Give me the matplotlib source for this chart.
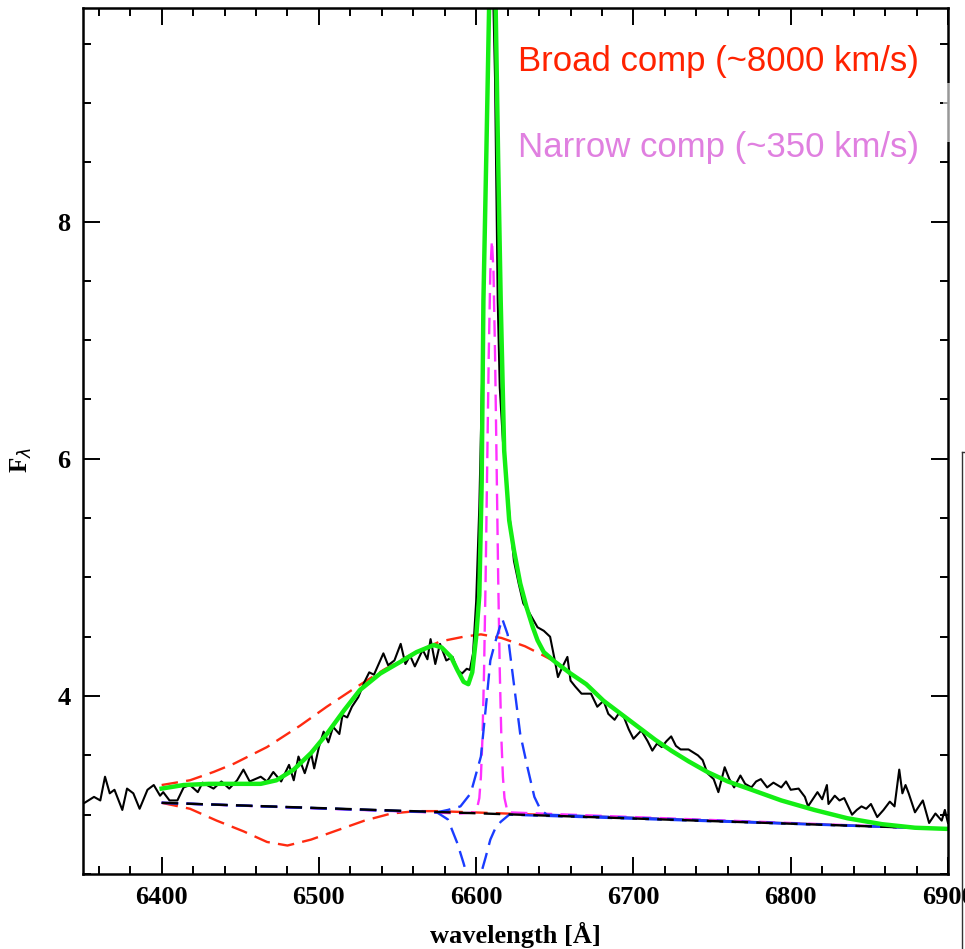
import matplotlib
matplotlib.use("Agg")
import matplotlib.pyplot as plt
from matplotlib.ticker import MultipleLocator
from matplotlib.patches import Rectangle
from matplotlib.lines import Line2D

# --------------------------------------------------------------------------- #
# Data (wavelength in Angstrom, flux F_lambda)
# --------------------------------------------------------------------------- #
SPEC_WL = [6351, 6357, 6361, 6364, 6367, 6370, 6375, 6378, 6382, 6386, 6391, 6395,
           6399, 6401, 6405, 6410, 6414, 6418, 6423, 6426, 6433, 6438, 6443, 6448,
           6452, 6456, 6463, 6467, 6471, 6476, 6481, 6484, 6487, 6491, 6495, 6497,
           6500, 6503, 6506, 6509, 6513, 6515, 6518, 6521, 6525, 6529, 6532, 6535,
           6539, 6541, 6544, 6548, 6552, 6555, 6558, 6561, 6566, 6569, 6571, 6574,
           6577, 6581, 6585, 6588, 6591, 6594, 6596, 6598, 6600, 6602, 6604, 6606,
           6608, 6610, 6612, 6613.7, 6615, 6617, 6619, 6621, 6624, 6627, 6630, 6633,
           6636, 6639, 6643, 6647, 6650, 6652, 6655, 6658, 6660, 6663, 6667, 6673,
           6677, 6681, 6684, 6688, 6691, 6694, 6697, 6700, 6705, 6709, 6712, 6715,
           6718, 6721, 6724, 6727, 6730, 6735, 6741, 6744, 6747, 6751, 6754, 6758,
           6761, 6764, 6768, 6771, 6775, 6778, 6781, 6785, 6789, 6794, 6797, 6800,
           6805, 6809, 6811, 6814, 6817, 6820, 6823, 6824, 6828, 6831, 6834, 6839,
           6842, 6845, 6848, 6851, 6855, 6859, 6863, 6866, 6869, 6871, 6873, 6875,
           6879, 6884, 6888, 6892, 6896, 6898, 6900]
SPEC_F = [3.10, 3.15, 3.12, 3.32, 3.18, 3.21, 3.04, 3.22, 3.18, 3.05, 3.21, 3.25,
          3.16, 3.19, 3.12, 3.12, 3.23, 3.25, 3.19, 3.27, 3.22, 3.28, 3.22, 3.29,
          3.38, 3.28, 3.32, 3.28, 3.36, 3.28, 3.42, 3.29, 3.49, 3.35, 3.52, 3.39,
          3.57, 3.70, 3.61, 3.74, 3.68, 3.84, 3.82, 3.91, 3.99, 4.12, 4.20, 4.18,
          4.30, 4.36, 4.26, 4.30, 4.44, 4.27, 4.34, 4.25, 4.39, 4.31, 4.48, 4.27,
          4.44, 4.30, 4.33, 4.22, 4.19, 4.23, 4.22, 4.36, 4.80, 5.60, 6.80, 8.20,
          9.70, 10.4, 9.20, 7.33, 6.60, 6.15, 5.85, 5.55, 5.14, 4.95, 4.78, 4.72,
          4.65, 4.58, 4.55, 4.50, 4.30, 4.16, 4.25, 4.33, 4.13, 4.08, 4.02, 4.02,
          3.91, 3.96, 3.85, 3.80, 3.86, 3.82, 3.72, 3.64, 3.71, 3.62, 3.54, 3.60,
          3.57, 3.62, 3.66, 3.58, 3.55, 3.55, 3.50, 3.46, 3.35, 3.30, 3.19, 3.40,
          3.30, 3.23, 3.33, 3.26, 3.23, 3.28, 3.30, 3.23, 3.27, 3.23, 3.28, 3.21,
          3.22, 3.15, 3.07, 3.13, 3.19, 3.13, 3.25, 3.09, 3.16, 3.12, 3.14, 3.00,
          3.04, 3.07, 3.05, 3.09, 2.98, 3.04, 3.11, 3.07, 3.38, 3.18, 3.25, 3.18,
          3.02, 3.12, 2.93, 3.01, 2.95, 3.04, 2.93]

# total fit (green)
FIT_WL = [6400, 6414, 6430, 6446, 6463, 6473, 6484, 6495, 6505, 6516, 6526, 6539,
          6552, 6562, 6573, 6578, 6584, 6588, 6592, 6595, 6597.5, 6600, 6602, 6603.5,
          6604.6, 6606.5, 6608.2, 6610, 6612.4, 6614, 6615.6, 6617.8, 6621, 6624,
          6628, 6632, 6636, 6639, 6643, 6650, 6660, 6670, 6681, 6692, 6703, 6714,
          6724, 6735, 6747, 6760, 6773, 6794, 6815, 6836, 6858, 6879, 6900]
FIT_F = [3.22, 3.25, 3.26, 3.26, 3.26, 3.29, 3.38, 3.52, 3.68, 3.88, 4.05, 4.19,
         4.29, 4.37, 4.43, 4.41, 4.33, 4.22, 4.12, 4.10, 4.20, 4.50, 4.85, 5.80,
         7.33, 8.60, 9.80, 11.0, 9.80, 8.50, 7.33, 6.07, 5.48, 5.23,
         4.95, 4.75, 4.58, 4.47, 4.37, 4.29, 4.19, 4.10, 3.96, 3.85, 3.74, 3.63,
         3.54, 3.45, 3.36, 3.28, 3.22, 3.12, 3.04, 2.97, 2.92, 2.89, 2.88]

# continuum (black dashed)
CONT_WL = [6400, 6900]
CONT_F = [3.10, 2.88]

# broad emission (red dashed)
BROAD_WL = [6400, 6418, 6433, 6446, 6467, 6488, 6505, 6522, 6541, 6560, 6577, 6592,
            6603, 6616, 6631, 6643, 6650, 6660, 6670, 6681, 6692, 6703, 6714, 6724,
            6735, 6747, 6760, 6773, 6794, 6815, 6836, 6858, 6879, 6900]
BROAD_F = [3.25, 3.29, 3.36, 3.43, 3.57, 3.75, 3.91, 4.06, 4.22, 4.36, 4.46, 4.50,
           4.52, 4.49, 4.42, 4.34, 4.29, 4.19, 4.10, 3.96, 3.85, 3.74, 3.63, 3.54,
           3.45, 3.36, 3.28, 3.22, 3.12, 3.04, 2.97, 2.92, 2.89, 2.88]

# broad absorption (red dashed)
BABS_WL = [6400, 6418, 6435, 6452, 6467, 6480, 6495, 6512, 6529, 6546, 6562, 6575, 6900]
BABS_F = [3.10, 3.05, 2.95, 2.86, 2.77, 2.74, 2.79, 2.87, 2.95, 3.01, 3.03, 3.03, 2.88]

# intermediate emission (blue dashed)
BEM_WL = [6400, 6575, 6582, 6590, 6596.5, 6603, 6607, 6609, 6612, 6616.6, 6620,
          6624, 6628, 6632.6, 6637, 6641, 6645, 6900]
BEM_F = [3.10, 3.02, 3.04, 3.07, 3.18, 3.49, 4.02, 4.30, 4.45, 4.65, 4.52,
         4.10, 3.68, 3.40, 3.15, 3.04, 3.00, 2.88]

# intermediate absorption (blue dashed)
BAB_WL = [6400, 6575, 6582, 6588, 6592, 6595, 6599, 6603, 6606, 6609, 6612,
          6615.6, 6621, 6900]
BAB_F = [3.10, 3.02, 2.96, 2.76, 2.59, 2.45, 2.32, 2.50, 2.64, 2.79, 2.88,
         2.94, 3.00, 2.88]

# narrow emission (magenta dashed)
NARROW_WL = [6400, 6590, 6600, 6602, 6603, 6604, 6605, 6606, 6607, 6608, 6609,
             6610, 6611, 6612, 6613, 6614, 6615, 6616, 6617, 6618, 6620, 6900]
NARROW_F = [3.10, 3.01, 3.02, 3.14, 3.32, 3.65, 4.21, 4.99, 5.94, 6.88, 7.58,
            7.84, 7.58, 6.88, 5.94, 4.99, 4.21, 3.65, 3.32, 3.14, 3.02, 2.88]

RED = "#ff2a10"
BLUE = "#1a3cff"
MAGENTA = "#ff30ff"
GREEN = "#14ee14"

SERIF = {"family": "Liberation Serif", "weight": "bold"}

fig = plt.figure(figsize=(9.65, 9.49), dpi=100)
ax = fig.add_axes([83 / 965, 1 - 874 / 949, 865 / 965, 866 / 949])

dash = dict(lw=1.7, dashes=(7, 3.5))
ax.plot(BROAD_WL, BROAD_F, color=RED, **dash)
ax.plot(BABS_WL, BABS_F, color=RED, **dash)
ax.plot(NARROW_WL, NARROW_F, color=MAGENTA, **dash)
ax.plot(BEM_WL, BEM_F, color=BLUE, **dash)
ax.plot(BAB_WL, BAB_F, color=BLUE, **dash)
ax.plot(CONT_WL, CONT_F, color="black", **dash)
ax.plot(SPEC_WL, SPEC_F, color="black", lw=1.5)
ax.plot(FIT_WL, FIT_F, color=GREEN, lw=3.2)

ax.set_xlim(6350, 6900)
ax.set_ylim(2.5, 9.8)
ax.xaxis.set_major_locator(MultipleLocator(100))
ax.xaxis.set_minor_locator(MultipleLocator(20))
ax.yaxis.set_major_locator(MultipleLocator(2))
ax.yaxis.set_minor_locator(MultipleLocator(0.5))
ax.tick_params(which="both", direction="in", top=True, right=True, width=1.4)
ax.tick_params(which="major", length=12, pad=9)
ax.tick_params(which="minor", length=6)
for s in ax.spines.values():
    s.set_linewidth(1.8)
for lab in ax.get_xticklabels() + ax.get_yticklabels():
    lab.set_fontfamily("Liberation Serif")
    lab.set_fontweight("bold")
    lab.set_fontsize(19)

ax.set_xlabel("wavelength [Å]", fontsize=19, va="center", **SERIF)
ax.xaxis.set_label_coords(0.5, -0.0705)
ax.set_ylabel(r"F$_\lambda$", fontsize=18, va="center", **SERIF)
ax.yaxis.set_label_coords(-0.071, 0.478)

ax.text((518 - 83) / 865, (874 - 62) / 866, "Broad comp (~8000 km/s)",
        color="#ff2200", fontsize=25, family="Liberation Sans",
        va="center", ha="left", transform=ax.transAxes)
ax.text((518 - 83) / 865, (874 - 147) / 866, "Narrow comp (~350 km/s)",
        color="#e080e0", fontsize=25, family="Liberation Sans",
        va="center", ha="left", transform=ax.transAxes)

# bits of the neighbouring panel cropped into the picture
fig.patches.append(Rectangle((943 / 965, 1 - 142 / 949), 8 / 965, 59 / 949,
                             transform=fig.transFigure, facecolor="white",
                             alpha=0.6, edgecolor="none", zorder=5))
fig.lines.append(Line2D([962 / 965, 962 / 965], [0, 1 - 452 / 949],
                        transform=fig.transFigure, color="#333333", lw=1.0))
fig.lines.append(Line2D([962 / 965, 1], [1 - 452 / 949, 1 - 452 / 949],
                        transform=fig.transFigure, color="#333333", lw=1.0))

fig.savefig("out.png", dpi=100, facecolor="white")
